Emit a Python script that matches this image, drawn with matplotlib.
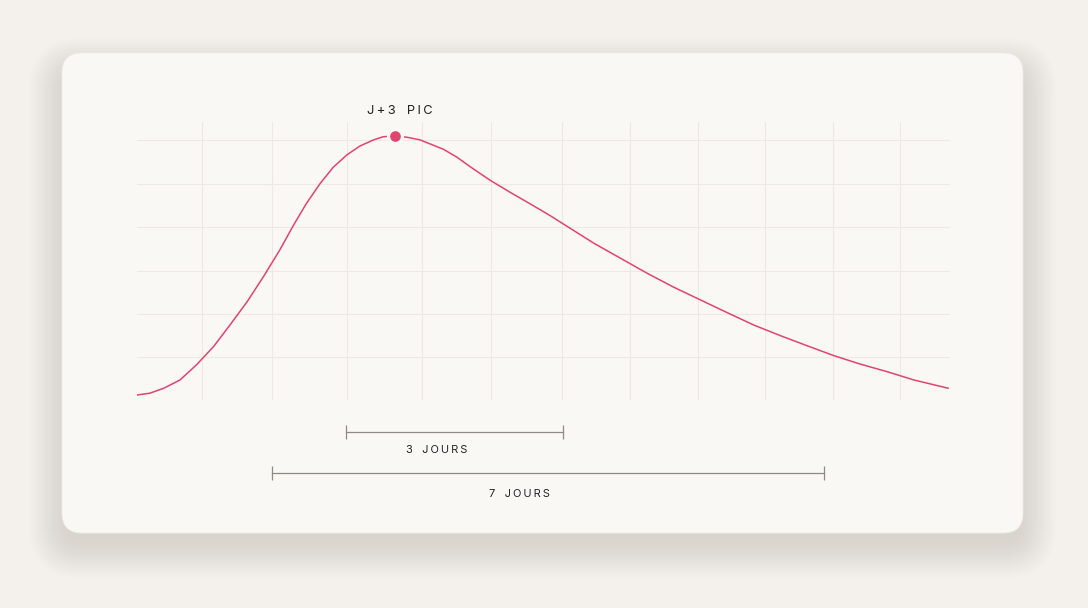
import matplotlib
matplotlib.use("Agg")
import matplotlib.pyplot as plt
from matplotlib.patches import FancyBboxPatch

# courbe (jours, intensité en %)
days = [0.00, 0.15, 0.31, 0.50, 0.69, 0.89, 1.08, 1.28, 1.47, 1.66, 1.82,
        1.97, 2.13, 2.28, 2.44, 2.59, 2.75, 2.86, 3.00, 3.14, 3.29, 3.41,
        3.56, 3.72, 3.87, 4.10, 4.34, 4.57, 4.80, 5.00, 5.31, 5.62, 5.93,
        6.24, 6.55, 6.86, 7.17, 7.48, 7.79, 8.10, 8.41, 8.72, 9.03, 9.43]
level = [0.0, 0.7, 2.6, 5.8, 11.6, 18.7, 27.0, 36.0, 45.7, 56.0, 65.6,
         74.0, 81.7, 87.9, 92.7, 96.1, 98.5, 99.7, 100.0, 99.5, 98.5, 96.9,
         94.9, 91.8, 88.2, 83.0, 78.2, 73.8, 69.3, 65.1, 58.6, 52.8, 47.0,
         41.6, 36.7, 31.8, 27.0, 22.9, 19.0, 15.2, 11.9, 9.0, 5.8, 2.6]

peak_day = 3.0
peak_level = 100.0
peak_label = "J+3 PIC"

grid_x = [0.76, 1.57, 2.44, 3.31, 4.12, 4.94, 5.73, 6.52, 7.30, 8.09, 8.87]
grid_y = [98.5, 81.5, 64.9, 47.9, 31.3, 14.7]

# intervalles (début, fin, libellé, centre du libellé)
spans = [(2.43, 4.95, "3 JOURS", 3.48), (1.57, 7.99, "7 JOURS", 4.45)]

BG = "#f4f1ec"
CARD = "#faf8f4"
PINK = "#e0446f"
INK = "#252422"
W, H = 1088, 608


def spaced(s):
    return "\u2009".join(s.replace(" ", "\u2002"))


fig = plt.figure(figsize=(W / 100, H / 100), dpi=100, facecolor=BG)

# fond + carte
bg = fig.add_axes([0, 0, 1, 1])
bg.set_xlim(0, W)
bg.set_ylim(H, 0)
bg.axis("off")
for i in range(16):
    grow = -3 + i * 2.4
    bg.add_patch(FancyBboxPatch((62 - grow, 71 - grow), 961 + 2 * grow, 474 + 2 * grow,
                                boxstyle="round,pad=0,rounding_size=%f" % (20 + max(grow, 0)),
                                fc="#5f5850", ec="none", alpha=0.0065))
bg.add_patch(FancyBboxPatch((62, 53), 961, 480, boxstyle="round,pad=0,rounding_size=20",
                            fc=CARD, ec="#f0ece6", lw=0.6))

# zone du graphique
ax = fig.add_axes([137 / W, 1 - 400 / H, (950 - 137) / W, (400 - 122) / H])
ax.set_facecolor("none")
ax.set_xlim(0, 9.45)
ax.set_ylim(-1.93, 105.4)
for s in ax.spines.values():
    s.set_visible(False)
ax.set_xticks(grid_x)
ax.set_yticks(grid_y)
ax.tick_params(length=0, labelbottom=False, labelleft=False)
ax.grid(True, color="#eee9e2", lw=0.8)

ax.plot(days, level, color=PINK, lw=1.1, solid_capstyle="round",
        solid_joinstyle="round", zorder=3)
ax.scatter([peak_day], [peak_level], s=100, color=PINK, edgecolor=CARD,
           linewidth=2.3, zorder=4, clip_on=False)
ax.text(peak_day + 0.05, 109.5, spaced(peak_label), ha="center", va="center",
        fontsize=9.3, color=INK, family=["Inter", "DejaVu Sans"], clip_on=False)

for (x0, x1, lab, xc), yb, yt in zip(spans, [-14.3, -30.1], [-21.2, -38.2]):
    ax.plot([x0, x1], [yb, yb], color="#8f8a84", lw=0.9, marker="|",
            markersize=10, markeredgewidth=0.9, clip_on=False)
    ax.text(xc, yt, spaced(lab), ha="center", va="center", fontsize=8.0,
            color=INK, family=["Inter", "DejaVu Sans"], clip_on=False)

fig.savefig("out.png", dpi=100, facecolor=BG)
